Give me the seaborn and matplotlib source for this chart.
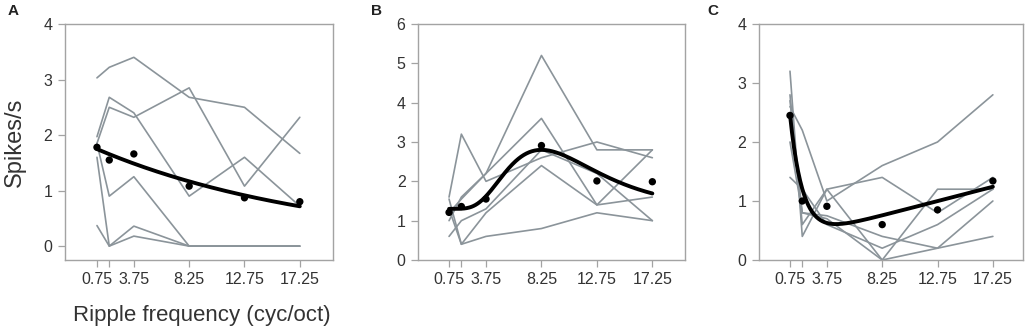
import numpy as np
import pandas as pd
import matplotlib
matplotlib.use("Agg")
import matplotlib.pyplot as plt
import seaborn as sns

# ripple frequencies (cyc/oct) tested
freqs = [0.75, 1.75, 3.75, 8.25, 12.75, 17.25]
tick_pos = [0.75, 1.75, 3.75, 8.25, 12.75, 17.25]
tick_labels = ["0.75", "", "3.75", "8.25", "12.75", "17.25"]

# panel A: individual units (spikes/s) and population mean
units_a = [
    [3.03, 3.22, 3.40, 2.68, 2.50, 1.67],
    [1.97, 2.68, 2.40, 0.90, 1.60, 0.72],
    [1.85, 2.50, 2.32, 2.85, 1.08, 2.32],
    [1.85, 0.90, 1.25, 0.00, 0.00, 0.00],
    [1.60, 0.00, 0.36, 0.00, 0.00, 0.00],
    [0.37, 0.00, 0.18, 0.00, 0.00, 0.00],
]
mean_a = [1.78, 1.55, 1.66, 1.08, 0.87, 0.80]

# panel B
units_b = [
    [1.20, 1.55, 2.20, 5.20, 2.80, 2.80],
    [1.00, 1.60, 2.20, 3.60, 1.40, 2.80],
    [1.60, 3.20, 2.00, 2.60, 3.00, 2.60],
    [0.60, 1.00, 1.30, 2.80, 2.20, 1.00],
    [1.30, 0.40, 1.20, 2.40, 1.40, 1.60],
    [1.55, 0.40, 0.60, 0.80, 1.20, 1.00],
]
mean_b = [1.21, 1.36, 1.55, 2.91, 2.01, 1.99]

# panel C
units_c = [
    [2.60, 2.20, 1.00, 1.60, 2.00, 2.80],
    [2.80, 0.60, 1.20, 1.40, 0.80, 1.40],
    [3.20, 0.40, 1.20, 0.00, 1.20, 1.20],
    [1.40, 1.20, 0.60, 0.20, 0.60, 1.20],
    [2.70, 0.80, 0.75, 0.40, 0.20, 1.00],
    [2.00, 0.80, 0.70, 0.00, 0.20, 0.40],
]
mean_c = [2.45, 1.00, 0.91, 0.60, 0.85, 1.34]

# fitted model parameters
fit_a = dict(amp=1.82, rate=0.054)                       # exponential decay
fit_b = dict(base=1.30, amp=1.50, mu=np.log(8.25), sd=0.45)  # gaussian in log freq
fit_c = dict(amp=4.37, rate=0.97, base=0.31, slope=0.054)    # decay + linear rise

GRAY = "#8b949a"
FRAME = "#a3a3a3"
TXT = "#333333"


def model_a(x, p):
    return p["amp"] * np.exp(-p["rate"] * x)


def model_b(x, p):
    return p["base"] + p["amp"] * np.exp(-(np.log(x) - p["mu"]) ** 2 / (2 * p["sd"] ** 2))


def model_c(x, p):
    return p["amp"] * np.exp(-p["rate"] * x) + p["base"] + p["slope"] * x


def to_long(units):
    rows = []
    for i, u in enumerate(units):
        for f, v in zip(freqs, u):
            rows.append({"unit": i, "freq": f, "rate": v})
    return pd.DataFrame(rows)


sns.set_theme(style="white")
plt.rcParams["font.family"] = ["Liberation Sans", "DejaVu Sans"]

fig = plt.figure(figsize=(10.28, 3.29), dpi=100)
W, H = 1028, 329
boxes = [(65, 333), (418, 685), (759, 1023)]
top, bottom = 24, 260
axes = [fig.add_axes([l / W, 1 - bottom / H, (r - l) / W, (bottom - top) / H]) for l, r in boxes]

panels = [
    (units_a, mean_a, model_a, fit_a, (-0.25, 4.0), [0, 1, 2, 3, 4], (-1.85, 19.95)),
    (units_b, mean_b, model_b, fit_b, (0, 6.0), [0, 1, 2, 3, 4, 5, 6], (-1.77, 19.9)),
    (units_c, mean_c, model_c, fit_c, (0, 4.0), [0, 1, 2, 3, 4], (-1.77, 19.7)),
]

xs = np.linspace(freqs[0], freqs[-1], 300)
for ax, (units, mean, model, params, ylim, yticks, xlim) in zip(axes, panels):
    df = to_long(units)
    sns.lineplot(data=df, x="freq", y="rate", units="unit", estimator=None,
                 color=GRAY, lw=1.2, ax=ax, legend=False)
    sns.lineplot(x=xs, y=model(xs, params), color="black", lw=2.8, ax=ax)
    sns.scatterplot(x=freqs, y=mean, color="black", s=28, edgecolor="none",
                    ax=ax, zorder=5)
    ax.set_xlim(*xlim)
    ax.set_ylim(*ylim)
    ax.set_xticks(tick_pos)
    ax.set_xticklabels(tick_labels)
    ax.set_yticks(yticks)
    ax.set_xlabel("")
    ax.set_ylabel("")
    for s in ax.spines.values():
        s.set_color(FRAME)
        s.set_linewidth(1.0)
    ax.tick_params(axis="both", which="major", direction="out", length=5,
                   width=0.9, color=FRAME, labelcolor=TXT, labelsize=11.5,
                   bottom=True, left=True, pad=4)

axes[0].set_ylabel("Spikes/s", fontsize=17, color=TXT)
axes[0].yaxis.set_label_coords(-0.145, 0.5)
axes[0].set_xlabel("Ripple frequency (cyc/oct)", fontsize=16, color=TXT)
axes[0].xaxis.set_label_coords(0.51, -0.19)

for x, lab in [(13, "A"), (377, "B"), (713, "C")]:
    fig.text(x / W, 1 - 11 / H, lab, fontsize=11, fontweight="bold",
             color="#222222", ha="center", va="center")

fig.savefig("out.png", dpi=100)
